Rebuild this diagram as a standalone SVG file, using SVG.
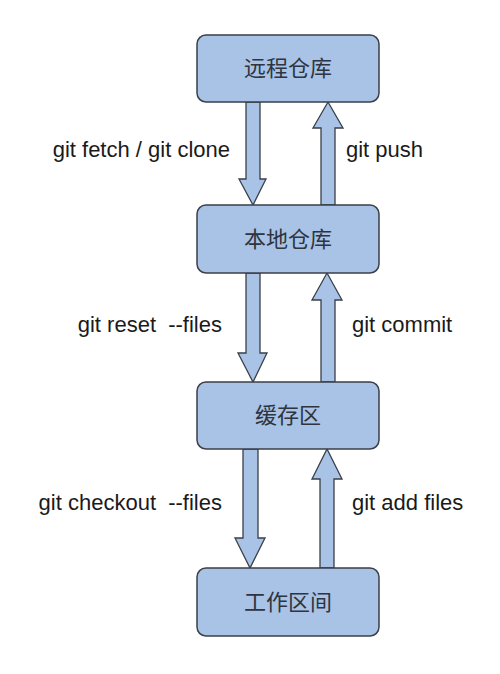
<svg xmlns="http://www.w3.org/2000/svg" width="500" height="674" viewBox="0 0 500 674">
<style>
.box{fill:#a8c3e6;stroke:#3a3f48;stroke-width:1.5}
.arr{fill:#a8c3e6;stroke:#3a3f48;stroke-width:1.3;stroke-linejoin:miter}
.cn{font-family:"Noto Sans CJK SC","Liberation Sans",sans-serif;font-size:22px;fill:#2e3440;text-anchor:middle}
.lb{font-family:"Liberation Sans",Arial,sans-serif;font-size:22px;fill:#1a1a1a}
.r{text-anchor:end}
</style>
<rect width="500" height="674" fill="#ffffff"/>
<g id="connectors">
<polygon class="arr" points="246,102 260,102 260,179 266,179 253,205 239,179 246,179"/>
<polygon class="arr" points="321,205 335,205 335,128 343,128 328,102 313,128 321,128"/>
<polygon class="arr" points="246,273 260,273 260,353 267,353 253,382 238,353 246,353"/>
<polygon class="arr" points="321,382 335,382 335,300 342,300 327,273 312,300 321,300"/>
<polygon class="arr" points="243,449 258,449 258,538 265,538 250,568 235,538 243,538"/>
<polygon class="arr" points="320,568 334,568 334,479 342,479 327,449 312,479 320,479"/>
</g>
<g id="labels">
<text class="lb r" x="230" y="157">git fetch / git clone</text>
<text class="lb" x="346" y="157">git push</text>
<text class="lb r" x="222" y="332" xml:space="preserve">git reset  --files</text>
<text class="lb" x="352" y="332">git commit</text>
<text class="lb r" x="222" y="510" xml:space="preserve">git checkout  --files</text>
<text class="lb" x="352" y="510">git add files</text>
</g>
<g id="remote">
<rect class="box" x="197" y="35" width="182" height="67" rx="9"/>
<text class="cn" x="288" y="76">远程仓库</text>
</g>
<g id="local">
<rect class="box" x="197" y="205" width="182" height="68" rx="9"/>
<text class="cn" x="288" y="247">本地仓库</text>
</g>
<g id="stage">
<rect class="box" x="197" y="382" width="182" height="67" rx="9"/>
<text class="cn" x="288" y="423">缓存区</text>
</g>
<g id="workspace">
<rect class="box" x="197" y="568" width="182" height="68" rx="9"/>
<text class="cn" x="288" y="610">工作区间</text>
</g>
</svg>
